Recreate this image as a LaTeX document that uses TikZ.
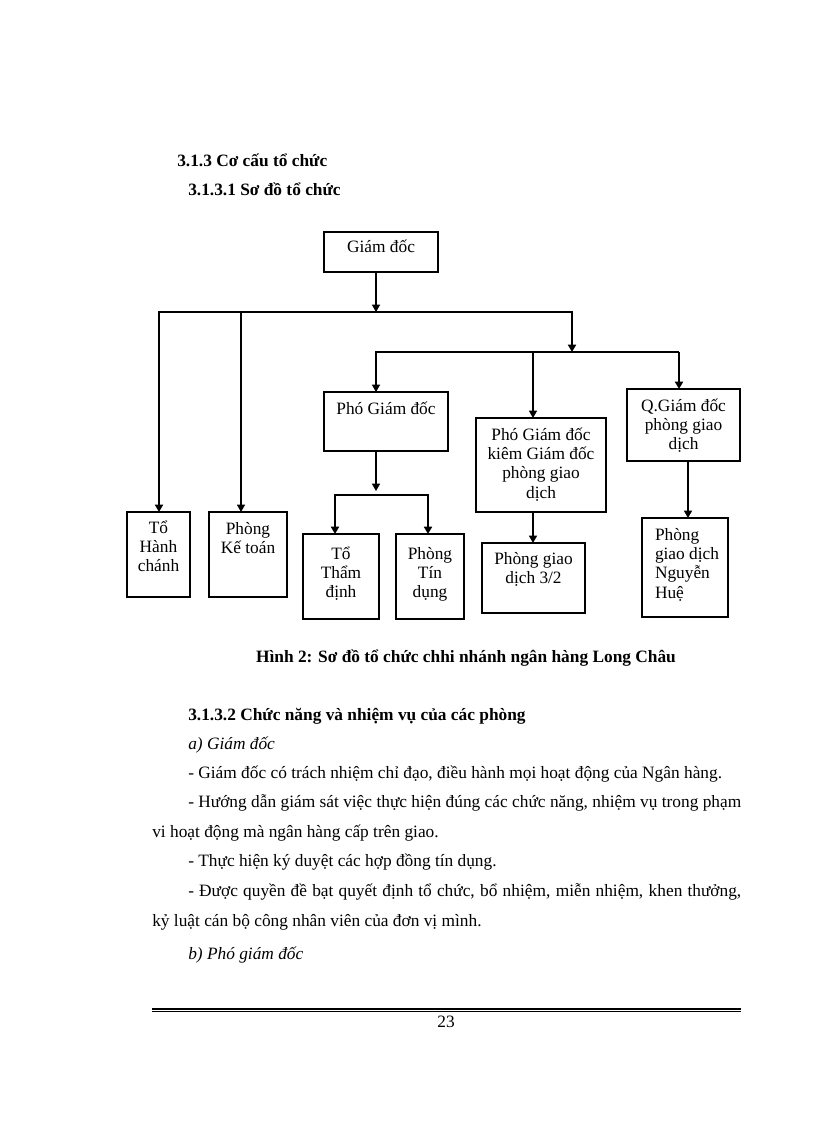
\documentclass[tikz,border=0pt]{standalone}
\usepackage{fontspec}
\setmainfont{Liberation Serif}
\usetikzlibrary{arrows.meta}
\newcommand\bxt[4]{\parbox[c][#2][t]{#1}{\lineskiplimit=-100pt\centering\rule{0pt}{#3}#4}}
\tikzset{
  orgbox/.style={draw, line width=1.5pt, inner sep=0pt, outer sep=0pt, anchor=north west},
  arr/.style={-{Triangle[length=5.5pt,width=6pt]}},
  thickln/.style={line width=1.5pt, line join=miter},
  thinln/.style={line width=1pt, line join=miter},
  txt/.style={inner sep=0pt, anchor=base west},
}
\begin{document}
\begin{tikzpicture}[x=0.75pt, y=-0.75pt, font=\fontsize{13}{14.5}\selectfont]
\fill[white] (0,0) rectangle (816,1123);
\useasboundingbox (0,0) rectangle (816,1123);

% headings
\node[txt] (h1) at (177,167) {\textbf{3.1.3 Cơ cấu tổ chức}};
\node[txt] (h2) at (188,196) {\textbf{3.1.3.1 Sơ đồ tổ chức}};

% boxes
\node[orgbox] (gd) at (324,232) {\bxt{85.5pt}{30pt}{15.75pt}{Giám đốc}};
\node[orgbox] (pgd) at (324,392) {\bxt{93pt}{44.25pt}{16.5pt}{Phó Giám đốc}};
\node[orgbox] (pgdk) at (476,418) {\bxt{97.5pt}{70.5pt}{16.5pt}{Phó Giám đốc\\kiêm Giám đốc\\phòng giao\\dịch}};
\node[orgbox] (qgd) at (627,389) {\bxt{84.75pt}{54pt}{16.5pt}{Q.Giám đốc\\phòng giao\\dịch}};
\node[orgbox] (thc) at (127,512) {\bxt{47.25pt}{63.75pt}{15.75pt}{Tổ\\Hành\\chánh}};
\node[orgbox] (pkt) at (209,512) {\bxt{58.5pt}{63.75pt}{16.5pt}{Phòng\\Kế toán}};
\node[orgbox] (ttd) at (303,534) {\bxt{57pt}{63.75pt}{18.75pt}{Tổ\\Thẩm\\định}};
\node[orgbox] (ptd) at (396,534) {\bxt{51pt}{63.75pt}{18.75pt}{Phòng\\Tín\\dụng}};
\node[orgbox] (pgd32) at (482,543) {\bxt{77.25pt}{52.5pt}{15.75pt}{Phòng giao\\dịch 3/2}};
\node[orgbox] (pnh) at (642,518) {\parbox[c][74.25pt][t]{64.5pt}{\lineskiplimit=-100pt\raggedright\leftskip=9.75pt\rule{0pt}{16.5pt}Phòng\\giao dịch\\Nguyễn\\Huệ}};

% junction coordinates
\coordinate (j0) at (376,312);
\coordinate (b1l) at (159,312);
\coordinate (b1k) at (241,312);
\coordinate (b1r) at (572,312);
\coordinate (b2r0) at (572,352);
\coordinate (b2l) at (376,352);
\coordinate (b2m) at (533,352);
\coordinate (b2r) at (679,352);
\coordinate (b3j) at (376,491);
\coordinate (b3m) at (376,495);
\coordinate (b3l) at (335,495);
\coordinate (b3r) at (428,495);
\coordinate (qx) at (688,461);

% connectors
\draw[thinln,arr] (j0 |- gd.south) -- (j0);
\draw[thickln,arr] (b1k) -- (b1l) -- (b1l |- thc.north);
\draw[thickln,arr] (b1k) -- (b1r) -- (b2r0);
\draw[thinln,arr] (b1k) -- (b1k |- pkt.north);
\draw[thinln,arr] (b2m) -- (b2l) -- (b2l |- pgd.north);
\draw[thinln] (b2m) -- (b2r);
\draw[thickln,arr] (b2r) -- (b2r |- qgd.north);
\draw[thinln,arr] (b2m) -- (b2m |- pgdk.north);
\draw[thinln,arr] (b3j |- pgd.south) -- (b3j);
\draw[thickln,arr] (b3m) -- (b3l) -- (b3l |- ttd.north);
\draw[thickln,arr] (b3m) -- (b3r) -- (b3r |- ptd.north);
\draw[thinln,arr] (b2m |- pgdk.south) -- (b2m |- pgd32.north);
\draw[thinln,arr] (qx |- qgd.south) -- (qx |- pnh.north);

% caption
\node[inner sep=0pt, anchor=base] (cap) at (466,662) {\textbf{Hình 2: Sơ đồ tổ chức chhi nhánh ngân hàng Long Châu}};

% body text
\node[txt] (t1) at (188,720) {\textbf{3.1.3.2 Chức năng và nhiệm vụ của các phòng}};
\node[txt] (t2) at (188,749) {\textit{a) Giám đốc}};
\node[txt] (t3) at (188,778) {- Giám đốc có trách nhiệm chỉ đạo, điều hành mọi hoạt động của Ngân hàng.};
\node[txt] (t4) at (188,807) {\makebox[414.75pt][s]{- Hướng dẫn giám sát việc thực hiện đúng các chức năng, nhiệm vụ trong phạm}};
\node[txt] (t5) at (152,837) {vi hoạt động mà ngân hàng cấp trên giao.};
\node[txt] (t6) at (188,866) {- Thực hiện ký duyệt các hợp đồng tín dụng.};
\node[txt] (t7) at (188,896) {\makebox[414.75pt][s]{- Được quyền đề bạt quyết định tổ chức, bổ nhiệm, miễn nhiệm, khen thưởng,}};
\node[txt] (t8) at (152,926) {kỷ luật cán bộ công nhân viên của đơn vị mình.};
\node[txt] (t9) at (188,959) {\textit{b) Phó giám đốc}};

% footer rule and page number
\draw[line width=1.8pt] (152,1008.8) -- (741,1008.8);
\draw[line width=0.75pt] (152,1011.9) -- (741,1011.9);
\node[inner sep=0pt, anchor=base] (pg) at (446,1027) {23};
\end{tikzpicture}
\end{document}
